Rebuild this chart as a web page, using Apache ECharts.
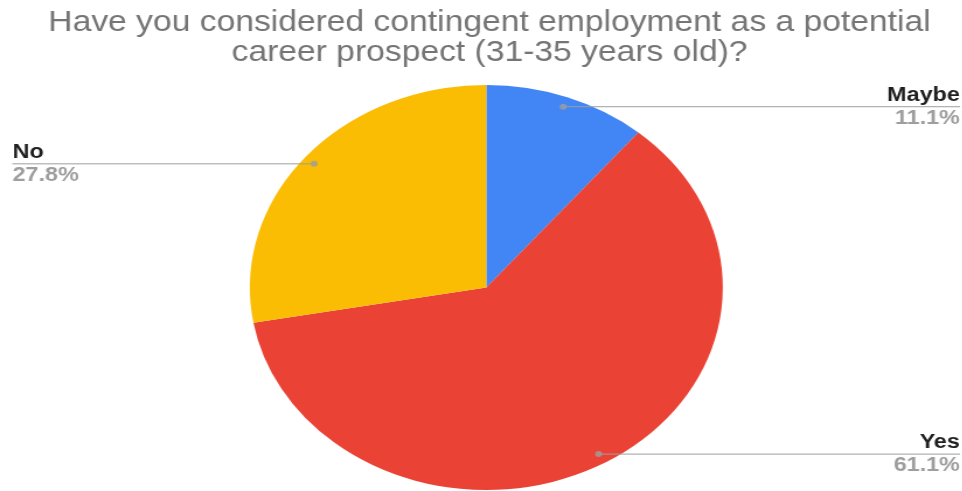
<!DOCTYPE html>
<html>
<head>
<meta charset="utf-8">
<script src="https://cdn.jsdelivr.net/npm/echarts@6/dist/echarts.min.js"></script>
<style>
  html, body { margin: 0; padding: 0; background: #ffffff; }
  #wrap { position: relative; width: 962px; height: 491px; overflow: hidden; }
  #chart { position: absolute; left: 0; top: 0; height: 491px; transform-origin: 0 0; }
</style>
</head>
<body>
<div id="wrap"><div id="chart"></div></div>
<script>
// Survey answers for the 31-35 age group
const titleLines = [
  'Have you considered contingent employment as a potential',
  'career prospect (31-35 years old)?'
];
const categories = ['Maybe', 'Yes', 'No'];
const counts = [2, 11, 5];
const sliceColors = ['#4285F4', '#EA4335', '#FBBC04'];

// Page geometry: the whole chart is drawn on a narrower canvas and widened horizontally
const PAGE_W = 962, PAGE_H = 491;
const PIE_CX = 486.3, PIE_CY = 287.5;   // centre on the page
const PIE_RX = 236.5, PIE_RY = 202.5;   // horizontal / vertical radius on the page
const SX = PIE_RX / PIE_RY;
const ANCHOR = 0.95;                    // leader lines start at this fraction of the radius
const TITLE_CX = 489.5;

const el = document.getElementById('chart');
el.style.width = (PAGE_W / SX) + 'px';
el.style.transform = 'scaleX(' + SX + ')';

const total = counts.reduce((a, b) => a + b, 0);
const pieData = categories.map((name, i) => ({
  name: name,
  value: counts[i],
  itemStyle: { color: sliceColors[i] }
}));

// Mid-angle of each slice, in data units, for the small anchor dots
let acc = 0;
const anchorDots = counts.map(v => {
  const mid = acc + v / 2;
  acc += v;
  return [ANCHOR, mid];
});

const center = [PIE_CX / SX, PIE_CY];

function onRight(i) {
  // slices whose middle lies in the right half are labelled at the right edge
  let before = 0;
  for (let k = 0; k < i; k++) before += counts[k];
  return (before + counts[i] / 2) / total < 0.5;
}

const lineData = pieData.map((d, i) => ({
  name: d.name, value: d.value,
  label: { edgeDistance: onRight(i) ? 2 / SX : 12 / SX }
}));
const textData = pieData.map((d, i) => ({
  name: d.name, value: d.value,
  label: { edgeDistance: onRight(i) ? 2.5 / SX : 12.5 / SX }
}));

const FONT = 'Liberation Sans, Arial, sans-serif';

const chart = echarts.init(el, null, { renderer: 'canvas' });
chart.setOption({
  animation: false,
  backgroundColor: '#ffffff',
  title: {
    text: titleLines.join('\n'),
    left: TITLE_CX / SX,
    textAlign: 'center',
    top: 8.5,
    padding: 0,
    textStyle: {
      fontFamily: FONT,
      fontSize: 28.8,
      fontWeight: 'normal',
      color: '#757575',
      lineHeight: 29.5
    }
  },
  polar: { center: center, radius: PIE_RY },
  angleAxis: { type: 'value', min: 0, max: total, startAngle: 90, clockwise: true, show: false },
  radiusAxis: { type: 'value', min: 0, max: 1, show: false },
  series: [
    {
      type: 'pie',
      center: center,
      radius: PIE_RY,
      startAngle: 90,
      clockwise: true,
      silent: true,
      label: { show: false },
      labelLine: { show: false },
      data: pieData
    },
    {
      // leader lines running from inside each slice out to the page edge
      type: 'pie',
      center: center,
      radius: ANCHOR * PIE_RY,
      startAngle: 90,
      clockwise: true,
      silent: true,
      z: 3,
      itemStyle: { color: 'rgba(0,0,0,0)' },
      label: {
        show: true,
        position: 'outside',
        alignTo: 'edge',
        formatter: ' ',
        fontSize: 1,
        color: 'rgba(0,0,0,0)',
        distanceToLabelLine: 0
      },
      labelLine: {
        show: true,
        length: 0.001,
        length2: 10,
        lineStyle: { color: '#9e9e9e', width: 1 }
      },
      data: lineData
    },
    {
      // category name and share placed at the page edges
      type: 'pie',
      center: center,
      radius: ANCHOR * PIE_RY,
      startAngle: 90,
      clockwise: true,
      silent: true,
      z: 4,
      itemStyle: { color: 'rgba(0,0,0,0)' },
      label: {
        show: true,
        position: 'outside',
        alignTo: 'edge',
        distanceToLabelLine: 0,
        formatter: p => '{n|' + p.name + '}\n{p|' + p.percent.toFixed(1) + '%}',
        rich: {
          n: { fontFamily: FONT, fontSize: 20, fontWeight: 'bold', color: '#1f1f1f', lineHeight: 23 },
          p: { fontFamily: FONT, fontSize: 20, fontWeight: 'bold', color: '#9e9e9e', lineHeight: 23 }
        }
      },
      labelLine: { show: false, length: 0.001, length2: 10 },
      data: textData
    },
    {
      type: 'scatter',
      coordinateSystem: 'polar',
      silent: true,
      z: 5,
      symbol: 'circle',
      symbolSize: 6,
      itemStyle: { color: '#9e9e9e' },
      data: anchorDots
    }
  ]
});
</script>
</body>
</html>
